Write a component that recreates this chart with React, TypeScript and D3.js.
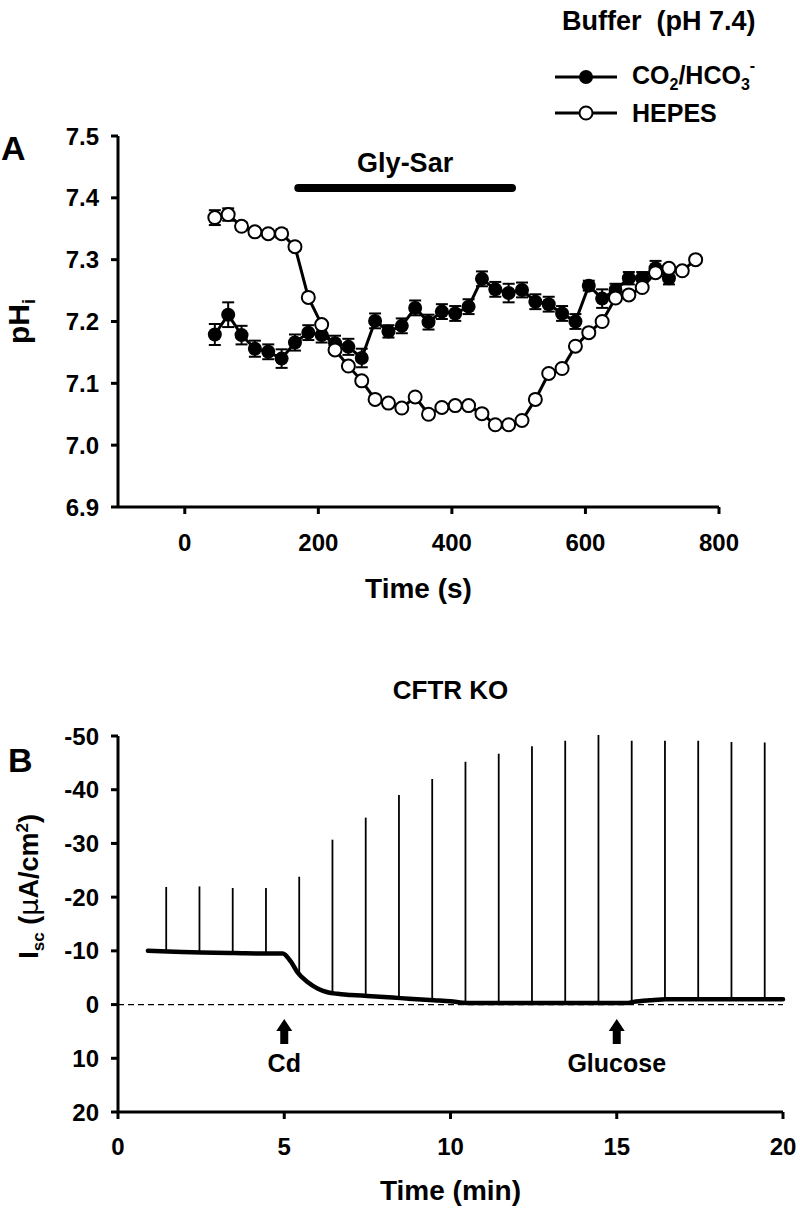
import React from "react";
import * as d3 from "d3";

// Panel A: intracellular pH, time in s
const hepesTime = [45, 65, 85, 105, 125, 145, 165, 185, 205, 225, 245, 265, 285, 305, 325, 345, 365, 385, 405, 425, 445, 465, 485, 505, 525, 545, 565, 585, 605, 625, 645, 665, 685, 705, 725, 745, 765];
const hepesPH = [7.368, 7.373, 7.354, 7.345, 7.342, 7.342, 7.321, 7.239, 7.195, 7.154, 7.128, 7.104, 7.074, 7.068, 7.06, 7.078, 7.05, 7.061, 7.064, 7.064, 7.051, 7.033, 7.033, 7.04, 7.074, 7.116, 7.124, 7.16, 7.182, 7.2, 7.238, 7.243, 7.255, 7.279, 7.286, 7.282, 7.3];
const hepesErr = [0.012, 0.01, 0.006, 0.005, 0.005, 0.007, 0.006, 0.005, 0.005, 0.005, 0.005, 0.005, 0.005, 0.005, 0.005, 0.005, 0.006, 0.005, 0.005, 0.005, 0.005, 0.005, 0.005, 0.005, 0.005, 0.005, 0.005, 0.005, 0.005, 0.005, 0.005, 0.005, 0.005, 0.005, 0.005, 0.005, 0.005];

const co2Time = [45, 65, 85, 105, 125, 145, 165, 185, 205, 225, 245, 265, 285, 305, 325, 345, 365, 385, 405, 425, 445, 465, 485, 505, 525, 545, 565, 585, 605, 625, 645, 665, 685, 705, 725];
const co2PH = [7.179, 7.211, 7.178, 7.156, 7.151, 7.14, 7.166, 7.182, 7.178, 7.165, 7.159, 7.141, 7.201, 7.184, 7.193, 7.222, 7.199, 7.216, 7.213, 7.224, 7.269, 7.252, 7.246, 7.251, 7.232, 7.228, 7.213, 7.2, 7.258, 7.237, 7.251, 7.27, 7.27, 7.286, 7.27];
const co2Err = [0.017, 0.02, 0.015, 0.013, 0.012, 0.015, 0.013, 0.012, 0.012, 0.012, 0.013, 0.015, 0.012, 0.01, 0.012, 0.012, 0.012, 0.012, 0.012, 0.012, 0.012, 0.012, 0.015, 0.012, 0.012, 0.012, 0.012, 0.012, 0.008, 0.015, 0.01, 0.01, 0.01, 0.012, 0.01];

const glySar = [170, 490];
const phTicks = [6.9, 7.0, 7.1, 7.2, 7.3, 7.4, 7.5];
const secTicks = [0, 200, 400, 600, 800];

// Panel B: short-circuit current, time in min
const traceTime = [0.9, 1.5, 2.5, 3.5, 4.5, 4.95, 5.2, 5.4, 5.7, 6.0, 6.3, 6.6, 7.0, 7.5, 8.0, 8.5, 9.0, 9.5, 10.0, 10.5, 11, 12, 13, 14, 15, 15.3, 15.5, 16, 16.5, 18, 20];
const traceIsc = [-10.0, -9.9, -9.7, -9.6, -9.5, -9.5, -8.0, -6.0, -4.2, -3.0, -2.3, -2.0, -1.8, -1.6, -1.4, -1.2, -1.0, -0.8, -0.6, -0.3, -0.3, -0.3, -0.3, -0.3, -0.3, -0.3, -0.5, -0.8, -1.0, -1.0, -1.0];
const spikeTime = [1.45, 2.45, 3.45, 4.45, 5.45, 6.45, 7.45, 8.45, 9.45, 10.45, 11.45, 12.45, 13.45, 14.45, 15.45, 16.45, 17.45, 18.45, 19.45];
const spikeTop = [-21.9, -22.0, -21.7, -21.7, -23.8, -30.7, -34.8, -39.0, -42.0, -45.2, -46.7, -48.1, -49.1, -50.2, -49.1, -49.1, -49.1, -48.9, -48.8];
const iscTicks = [-50, -40, -30, -20, -10, 0, 10, 20];
const minTicks = [0, 5, 10, 15, 20];
const markers = [{ t: 5, label: "Cd" }, { t: 15, label: "Glucose" }];

const FONT = "'Liberation Sans', Arial, sans-serif";

export default function App() {
  // scales
  const xA = d3.scaleLinear().domain([-100, 800]).range([118, 719]);
  const yA = d3.scaleLinear().domain([6.9, 7.5]).range([507, 136]);
  const xB = d3.scaleLinear().domain([0, 20]).range([118, 783]);
  const yB = d3.scaleLinear().domain([-50, 20]).range([736, 1112]);

  const lineA = d3.line<[number, number]>().x((d) => xA(d[0])).y((d) => yA(d[1]));
  const hepesPts = hepesTime.map((t, i) => [t, hepesPH[i]] as [number, number]);
  const co2Pts = co2Time.map((t, i) => [t, co2PH[i]] as [number, number]);

  // baseline value at time t, so spikes start on the trace
  const traceAt = (t: number) => {
    const i = d3.bisectLeft(traceTime, t);
    if (i <= 0) return traceIsc[0];
    if (i >= traceTime.length) return traceIsc[traceIsc.length - 1];
    const t0 = traceTime[i - 1], t1 = traceTime[i];
    const f = (t - t0) / (t1 - t0);
    return traceIsc[i - 1] + f * (traceIsc[i] - traceIsc[i - 1]);
  };
  const lineB = d3
    .line<[number, number]>()
    .x((d) => xB(d[0]))
    .y((d) => yB(d[1]))
    .curve(d3.curveMonotoneX);
  const tracePts = traceTime.map((t, i) => [t, traceIsc[i]] as [number, number]);

  const errBars = (times: number[], vals: number[], errs: number[], key: string) =>
    times.map((t, i) => {
      const x = xA(t);
      const y1 = yA(vals[i] + errs[i]);
      const y2 = yA(vals[i] - errs[i]);
      return (
        <g key={key + i} stroke="#000" strokeWidth={2}>
          <line x1={x} x2={x} y1={y1} y2={y2} />
          <line x1={x - 6} x2={x + 6} y1={y1} y2={y1} />
          <line x1={x - 6} x2={x + 6} y1={y2} y2={y2} />
        </g>
      );
    });

  return (
    <svg width={800} height={1211} style={{ display: "block", position: "absolute", left: 0, top: 0 }} fontFamily={FONT} fontWeight="bold">
      <rect width={800} height={1211} fill="#fff" />

      {/* Legend */}
      <text x={562} y={30} fontSize={27} style={{ whiteSpace: "pre" }}>{"Buffer  (pH 7.4)"}</text>
      <line x1={555} x2={617} y1={77} y2={77} stroke="#000" strokeWidth={3} />
      <circle cx={586} cy={77} r={7} fill="#000" />
      <text x={632} y={84} fontSize={25}>
        CO<tspan fontSize={16} dy={6}>2</tspan>
        <tspan dy={-6}>/HCO</tspan>
        <tspan fontSize={16} dy={6}>3</tspan>
        <tspan fontSize={16} dy={-19}>-</tspan>
      </text>
      <line x1={555} x2={617} y1={113} y2={113} stroke="#000" strokeWidth={3} />
      <circle cx={586} cy={113} r={6.5} fill="#fff" stroke="#000" strokeWidth={2} />
      <text x={632} y={122} fontSize={25}>HEPES</text>

      {/* Panel A */}
      <text x={1} y={160} fontSize={34}>A</text>
      <text transform={`translate(29, ${yA(7.2)}) rotate(-90)`} textAnchor="middle" fontSize={30}>
        pH<tspan fontSize={18} dy={6}>i</tspan>
      </text>
      <line x1={118} x2={118} y1={yA(7.5)} y2={yA(6.9)} stroke="#000" strokeWidth={3} />
      <line x1={118} x2={xA(800)} y1={507} y2={507} stroke="#000" strokeWidth={3} />
      {phTicks.map((v) => (
        <g key={"py" + v}>
          <line x1={111} x2={118} y1={yA(v)} y2={yA(v)} stroke="#000" strokeWidth={3} />
          <text x={99} y={yA(v)} dy="0.36em" textAnchor="end" fontSize={24}>{v.toFixed(1)}</text>
        </g>
      ))}
      {secTicks.map((v) => (
        <g key={"px" + v}>
          <line x1={xA(v)} x2={xA(v)} y1={507} y2={514} stroke="#000" strokeWidth={3} />
          <text x={xA(v)} y={551} textAnchor="middle" fontSize={24}>{v}</text>
        </g>
      ))}
      <text x={(118 + xA(800)) / 2} y={598} textAnchor="middle" fontSize={28}>Time (s)</text>

      <line x1={xA(glySar[0])} x2={xA(glySar[1])} y1={188} y2={188} stroke="#000" strokeWidth={8} strokeLinecap="round" />
      <text x={(xA(glySar[0]) + xA(glySar[1])) / 2} y={172} textAnchor="middle" fontSize={27}>Gly-Sar</text>

      {errBars(co2Time, co2PH, co2Err, "ce")}
      {errBars(hepesTime, hepesPH, hepesErr, "he")}
      <path d={lineA(co2Pts) || ""} fill="none" stroke="#000" strokeWidth={3} />
      <path d={lineA(hepesPts) || ""} fill="none" stroke="#000" strokeWidth={3} />
      {co2Pts.map((d, i) => (
        <circle key={"c" + i} cx={xA(d[0])} cy={yA(d[1])} r={7} fill="#000" />
      ))}
      {hepesPts.map((d, i) => (
        <circle key={"h" + i} cx={xA(d[0])} cy={yA(d[1])} r={6.5} fill="#fff" stroke="#000" strokeWidth={2} />
      ))}

      {/* Panel B */}
      <text x={(118 + 783) / 2} y={699} textAnchor="middle" fontSize={26}>CFTR KO</text>
      <text x={8} y={772} fontSize={34}>B</text>
      <text transform={`translate(38, ${yB(-22)}) rotate(-90)`} textAnchor="middle" fontSize={27}>
        I<tspan fontSize={17} dy={6}>sc</tspan>
        <tspan dy={-6}> (</tspan>
        <tspan fontFamily="'DejaVu Sans', sans-serif" fontWeight="normal">μ</tspan>
        <tspan>A/cm</tspan>
        <tspan fontSize={17} dy={-10}>2</tspan>
        <tspan dy={10}>)</tspan>
      </text>
      <line x1={118} x2={118} y1={yB(-50)} y2={yB(20)} stroke="#000" strokeWidth={3} />
      <line x1={118} x2={xB(20)} y1={yB(20)} y2={yB(20)} stroke="#000" strokeWidth={3} />
      {iscTicks.map((v) => (
        <g key={"by" + v}>
          <line x1={111} x2={118} y1={yB(v)} y2={yB(v)} stroke="#000" strokeWidth={3} />
          <text x={99} y={yB(v)} dy="0.36em" textAnchor="end" fontSize={24}>{v}</text>
        </g>
      ))}
      {minTicks.map((v) => (
        <g key={"bx" + v}>
          <line x1={xB(v)} x2={xB(v)} y1={yB(20)} y2={yB(20) + 7} stroke="#000" strokeWidth={3} />
          <text x={xB(v)} y={1155} textAnchor="middle" fontSize={24}>{v}</text>
        </g>
      ))}
      <text x={(118 + 783) / 2} y={1200} textAnchor="middle" fontSize={28}>Time (min)</text>

      <line x1={118} x2={xB(20)} y1={yB(0)} y2={yB(0)} stroke="#000" strokeWidth={1.2} strokeDasharray="6,4" />
      {spikeTime.map((t, i) => (
        <line key={"s" + i} x1={xB(t)} x2={xB(t)} y1={yB(spikeTop[i])} y2={yB(traceAt(t))} stroke="#000" strokeWidth={1.8} />
      ))}
      <path d={lineB(tracePts) || ""} fill="none" stroke="#000" strokeWidth={4.5} strokeLinecap="round" />

      {markers.map((m) => {
        const x = xB(m.t);
        return (
          <g key={m.label}>
            <path d={`M${x},1019 L${x - 8},1031 L${x - 4},1031 L${x - 4},1044 L${x + 4},1044 L${x + 4},1031 L${x + 8},1031 Z`} fill="#000" />
            <text x={x} y={1072} textAnchor="middle" fontSize={25}>{m.label}</text>
          </g>
        );
      })}
    </svg>
  );
}
